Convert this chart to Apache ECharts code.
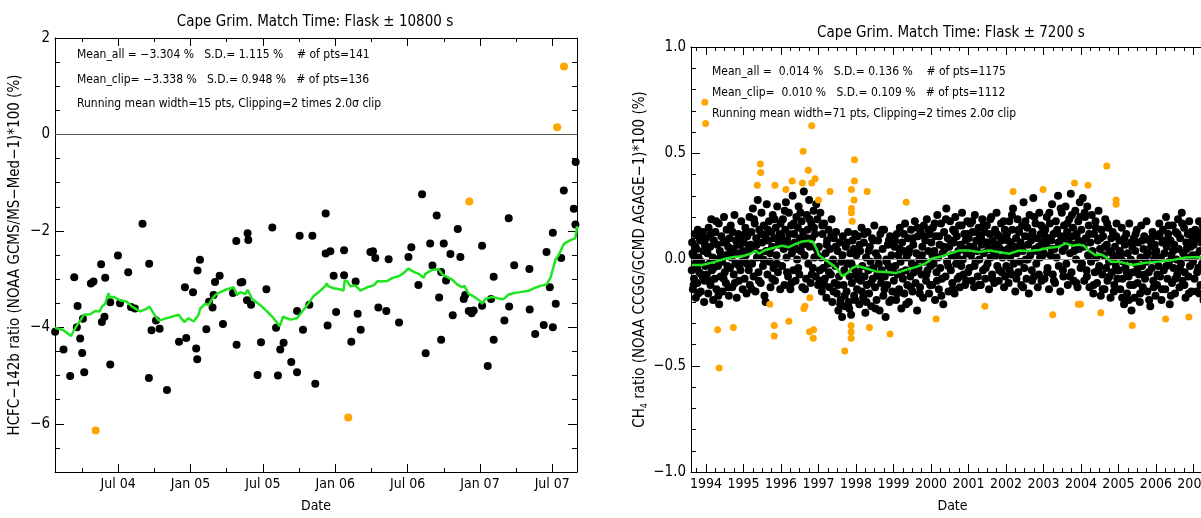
<!DOCTYPE html>
<html>
<head>
<meta charset="utf-8">
<script src="https://cdn.jsdelivr.net/npm/echarts@6/dist/echarts.min.js"></script>
<style>
html,body{margin:0;padding:0;background:#fff;overflow:hidden}
/* the right panel runs past the window edge, as in the original */
#chart{width:1232px;height:518px}
</style>
</head>
<body>
<div id="chart"></div>
<script>
// ---- HCFC-142b panel (left) : [decimal year, ratio %] ----
const hcfcPts = [
  [2004.064,-4.09],[2004.122,-4.46],[2004.168,-5.01],[2004.196,-2.96],[2004.219,-3.56],[2004.214,-4.00],[2004.256,-3.82],[2004.237,-4.23],[2004.251,-4.53],[2004.265,-4.93],
  [2004.311,-3.09],[2004.329,-3.05],[2004.382,-2.69],[2004.410,-2.97],[2004.387,-3.89],[2004.405,-3.78],[2004.445,-3.48],[2004.445,-4.77],[2004.498,-2.51],[2004.512,-3.50],
  [2004.569,-2.86],[2004.588,-3.58],[2004.615,-3.61],[2004.668,-1.85],[2004.714,-2.68],[2004.712,-5.05],[2004.730,-4.06],[2004.761,-3.86],[2004.786,-4.03],[2004.837,-5.30],
  [2004.920,-4.30],[2004.961,-3.17],[2004.970,-4.22],[2005.017,-3.27],[2005.039,-4.44],[2005.046,-4.66],[2005.048,-2.82],[2005.065,-2.60],[2005.109,-4.04],[2005.127,-3.47],
  [2005.152,-3.59],[2005.159,-3.33],[2005.169,-3.06],[2005.201,-2.93],[2005.224,-3.93],[2005.293,-3.29],[2005.316,-2.21],[2005.318,-4.36],[2005.346,-3.07],[2005.358,-3.06],
  [2005.394,-2.05],[2005.399,-2.19],[2005.390,-3.44],[2005.418,-3.53],[2005.463,-4.99],[2005.487,-4.31],[2005.524,-3.21],[2005.565,-1.93],[2005.591,-4.01],[2005.604,-5.00],
  [2005.620,-4.46],[2005.643,-4.32],[2005.696,-4.72],[2005.736,-4.93],[2005.754,-2.10],[2005.736,-3.66],[2005.777,-4.05],[2005.821,-3.53],[2005.842,-2.10],[2005.862,-5.17],
  [2005.934,-1.64],[2005.934,-2.47],[2005.966,-2.42],[2005.947,-3.96],[2005.989,-2.93],[2006.006,-3.68],[2006.061,-2.40],[2006.061,-2.92],[2006.111,-4.30],[2006.141,-3.05],
  [2006.155,-3.72],[2006.176,-4.05],[2006.243,-2.44],[2006.261,-2.42],[2006.277,-2.56],[2006.298,-3.59],[2006.353,-3.66],[2006.369,-2.59],[2006.441,-3.90],[2006.506,-2.54],
  [2006.526,-2.34],[2006.575,-3.12],[2006.600,-1.24],[2006.625,-4.54],[2006.656,-2.26],[2006.672,-2.72],[2006.701,-1.68],[2006.718,-3.38],[2006.732,-4.26],[2006.732,-2.85],
  [2006.750,-2.26],[2006.766,-3.03],[2006.796,-2.48],[2006.812,-3.75],[2006.847,-1.96],[2006.865,-2.54],[2006.888,-3.41],[2006.898,-3.33],[2006.923,-3.66],[2006.943,-3.71],
  [2006.957,-3.65],[2007.015,-2.31],[2007.015,-3.55],[2007.054,-4.80],[2007.077,-3.41],[2007.095,-2.95],[2007.095,-4.26],[2007.169,-3.86],[2007.199,-1.74],[2007.202,-3.57],
  [2007.237,-2.71],[2007.342,-2.79],[2007.344,-3.63],[2007.382,-4.14],[2007.441,-3.95],[2007.460,-2.44],[2007.483,-3.17],[2007.504,-2.04],[2007.504,-4.00],[2007.524,-3.51],
  [2007.562,-2.56],[2007.580,-1.16],[2007.649,-1.54],[2007.660,-1.87],[2007.662,-0.57]
];
const hcfcClipped = [[2004.344,-6.14],[2006.090,-5.87],[2006.927,-1.39],[2007.534,0.15],[2007.581,1.41]];
const hcfcMean = [
  [2004.064,-4.01],[2004.122,-4.06],[2004.173,-4.18],[2004.210,-3.98],[2004.242,-3.84],[2004.260,-3.74],[2004.306,-3.73],[2004.341,-3.66],
  [2004.371,-3.67],[2004.387,-3.57],[2004.410,-3.51],[2004.433,-3.29],[2004.440,-3.37],[2004.467,-3.37],[2004.514,-3.44],[2004.560,-3.47],
  [2004.595,-3.57],[2004.652,-3.67],[2004.698,-3.61],[2004.716,-3.57],[2004.744,-3.71],[2004.779,-3.86],[2004.837,-3.81],[2004.917,-3.74],
  [2004.956,-3.89],[2004.986,-3.81],[2005.021,-3.88],[2005.055,-3.74],[2005.067,-3.61],[2005.102,-3.51],[2005.125,-3.54],[2005.148,-3.42],
  [2005.171,-3.33],[2005.205,-3.27],[2005.252,-3.21],[2005.297,-3.17],[2005.321,-3.33],[2005.344,-3.27],[2005.378,-3.31],[2005.394,-3.22],
  [2005.425,-3.41],[2005.482,-3.54],[2005.528,-3.67],[2005.574,-3.81],[2005.616,-3.98],[2005.639,-3.78],[2005.690,-3.84],[2005.736,-3.81],
  [2005.805,-3.54],[2005.851,-3.35],[2005.897,-3.24],[2005.932,-3.14],[2005.939,-3.09],[2005.954,-3.15],[2005.989,-3.19],[2006.031,-3.21],
  [2006.058,-3.24],[2006.065,-3.03],[2006.082,-3.04],[2006.105,-3.15],[2006.139,-3.13],[2006.174,-3.24],[2006.220,-3.17],[2006.266,-3.13],
  [2006.293,-3.04],[2006.312,-3.05],[2006.358,-3.04],[2006.393,-2.98],[2006.445,-2.93],[2006.478,-2.86],[2006.506,-2.78],[2006.542,-2.85],
  [2006.577,-2.89],[2006.611,-2.97],[2006.623,-2.89],[2006.669,-2.81],[2006.715,-2.79],[2006.739,-2.90],[2006.761,-2.94],[2006.773,-2.91],
  [2006.808,-3.01],[2006.842,-3.11],[2006.877,-3.17],[2006.893,-3.14],[2006.923,-3.31],[2006.957,-3.36],[2007.004,-3.46],[2007.015,-3.51],
  [2007.038,-3.41],[2007.084,-3.37],[2007.096,-3.35],[2007.142,-3.41],[2007.165,-3.41],[2007.199,-3.32],[2007.234,-3.29],[2007.280,-3.27],
  [2007.338,-3.24],[2007.372,-3.19],[2007.418,-3.14],[2007.460,-3.11],[2007.488,-2.97],[2007.522,-2.60],[2007.545,-2.50],[2007.580,-2.27],
  [2007.626,-2.19],[2007.660,-2.15],[2007.671,-1.90]
];
const hcfcTickVals = [2004.5, 2005.0, 2005.5, 2006.0, 2006.5, 2007.0, 2007.5];
const hcfcTickLabels = ['Jul 04', 'Jan 05', 'Jul 05', 'Jan 06', 'Jul 06', 'Jan 07', 'Jul 07'];
const hcfcYTicks = [-6, -4, -2, 0, 2];
const hcfcStats = [
  'Mean_all = \u22123.304 %   S.D.= 1.115 %    # of pts=141',
  'Mean_clip= \u22123.338 %   S.D.= 0.948 %   # of pts=136',
  'Running mean width=15 pts, Clipping=2 times 2.0\u03c3 clip'
];

// ---- CH4 panel (right) : [decimal year, ratio %], grouped by year ----
const ch1993 = [[1993.62,-0.05],[1993.63,0.08],[1993.65,-0.14],[1993.66,0.02],[1993.68,-0.09],[1993.70,0.12],[1993.71,-0.02],[1993.73,-0.18],[1993.75,0.05],[1993.77,-0.11],[1993.78,0.14],[1993.80,0.01],[1993.82,-0.06],[1993.84,0.09],[1993.86,-0.15],[1993.87,-0.01],[1993.89,0.11],[1993.91,-0.08],[1993.93,0.04],[1993.95,-0.20],[1993.97,0.07],[1993.98,-0.03],
  [1993.64,0.03],[1993.67,-0.12],[1993.72,0.06],[1993.76,-0.04],[1993.79,-0.16],[1993.83,0.10],[1993.88,-0.07],[1993.92,0.13],[1993.96,-0.10]];
const ch1994 = [[1994.01,0.10],[1994.02,-0.07],[1994.04,0.03],[1994.06,-0.16],[1994.07,0.15],[1994.09,-0.02],[1994.11,0.06],[1994.12,-0.12],[1994.14,0.19],[1994.16,-0.05],[1994.18,0.01],[1994.19,-0.19],[1994.21,0.09],[1994.23,-0.09],[1994.25,0.13],[1994.26,0.00],[1994.28,-0.14],[1994.30,0.07],[1994.32,-0.03],[1994.34,0.17],[1994.35,-0.21],[1994.37,0.04],[1994.39,-0.08],[1994.41,0.11],[1994.43,-0.01],[1994.44,-0.15],[1994.46,0.08],[1994.48,0.20],[1994.50,-0.06],[1994.52,0.02],[1994.53,-0.11],[1994.55,0.14],[1994.57,-0.03],[1994.59,0.06],[1994.61,-0.17],[1994.63,0.10],[1994.64,-0.04],[1994.66,0.16],[1994.68,0.01],[1994.70,-0.13],[1994.72,0.05],[1994.74,-0.07],[1994.76,0.21],[1994.78,-0.02],[1994.80,0.09],[1994.82,-0.18],[1994.84,0.03],[1994.86,0.12],[1994.88,-0.10],[1994.90,0.07],[1994.92,-0.05],[1994.94,0.18],[1994.96,-0.01],[1994.98,-0.14],
  [1994.03,0.05],[1994.08,-0.10],[1994.13,0.12],[1994.20,-0.04],[1994.27,0.18],[1994.33,-0.17],[1994.40,0.02],[1994.47,-0.09],[1994.54,0.09],[1994.60,-0.13],[1994.65,0.04],[1994.71,0.13],[1994.77,-0.11],[1994.83,0.07],[1994.89,-0.03],[1994.95,0.10],[1994.99,0.04]];
const ch1995 = [[1995.01,0.08],[1995.03,-0.09],[1995.05,0.15],[1995.06,0.02],[1995.08,-0.16],[1995.10,0.11],[1995.12,0.04],[1995.14,-0.05],[1995.16,0.20],[1995.17,-0.12],[1995.19,0.07],[1995.21,0.13],[1995.23,-0.02],[1995.25,0.24],[1995.27,-0.08],[1995.29,0.05],[1995.30,0.17],[1995.32,-0.15],[1995.34,0.10],[1995.36,0.01],[1995.38,0.28],[1995.40,-0.06],[1995.42,0.14],[1995.44,0.03],[1995.46,-0.11],[1995.48,0.22],[1995.50,0.08],[1995.52,-0.03],[1995.54,0.16],[1995.56,-0.17],[1995.58,0.11],[1995.60,0.04],[1995.62,0.26],[1995.64,-0.07],[1995.66,0.09],[1995.68,0.18],[1995.70,-0.01],[1995.72,-0.13],[1995.74,0.13],[1995.76,0.06],[1995.78,0.21],[1995.80,-0.04],[1995.82,0.10],[1995.84,-0.10],[1995.86,0.15],[1995.88,0.02],[1995.90,0.25],[1995.92,-0.06],[1995.94,0.07],[1995.96,0.12],[1995.98,-0.14],
  [1995.04,0.12],[1995.09,-0.02],[1995.15,0.06],[1995.22,-0.14],[1995.28,0.19],[1995.35,0.07],[1995.41,-0.10],[1995.47,0.12],[1995.53,0.00],[1995.59,-0.20],[1995.65,0.14],[1995.71,0.03],[1995.77,-0.09],[1995.83,0.19],[1995.89,-0.02],[1995.95,0.09],[1995.99,0.17]];
const ch1996 = [[1996.01,0.11],[1996.03,-0.03],[1996.05,0.19],[1996.07,0.05],[1996.09,-0.12],[1996.11,0.14],[1996.13,0.27],[1996.15,0.01],[1996.17,0.09],[1996.19,-0.08],[1996.21,0.22],[1996.23,0.06],[1996.25,-0.14],[1996.27,0.16],[1996.29,0.03],[1996.31,0.30],[1996.33,-0.05],[1996.35,0.12],[1996.37,0.08],[1996.39,-0.10],[1996.41,0.20],[1996.43,0.00],[1996.45,0.15],[1996.47,0.25],[1996.49,-0.07],[1996.51,0.10],[1996.53,0.04],[1996.55,0.18],[1996.57,-0.13],[1996.59,0.13],[1996.61,0.32],[1996.63,0.02],[1996.65,0.08],[1996.67,-0.09],[1996.69,0.21],[1996.71,0.14],[1996.73,-0.02],[1996.75,0.28],[1996.77,0.06],[1996.79,-0.11],[1996.81,0.17],[1996.83,0.10],[1996.85,-0.04],[1996.87,0.23],[1996.89,0.01],[1996.91,0.12],[1996.93,-0.08],[1996.95,0.05],[1996.97,0.19],[1996.99,-0.12],
  [1996.04,0.08],[1996.10,0.23],[1996.16,-0.06],[1996.22,0.12],[1996.28,-0.11],[1996.34,0.17],[1996.40,0.05],[1996.46,-0.04],[1996.52,0.22],[1996.58,0.07],[1996.64,-0.14],[1996.70,0.10],[1996.76,0.19],[1996.82,-0.07],[1996.88,0.15],[1996.94,0.26],[1996.98,0.02]];
const ch1997 = [[1997.01,0.06],[1997.03,-0.10],[1997.05,0.22],[1997.07,0.01],[1997.09,-0.15],[1997.11,0.12],[1997.13,-0.04],[1997.15,0.17],[1997.17,-0.09],[1997.19,0.03],[1997.21,-0.18],[1997.23,0.09],[1997.25,-0.02],[1997.27,0.14],[1997.29,-0.13],[1997.31,0.05],[1997.33,-0.07],[1997.35,0.19],[1997.37,-0.20],[1997.39,0.00],[1997.41,0.10],[1997.43,-0.11],[1997.45,-0.03],[1997.47,0.13],[1997.49,-0.16],[1997.51,0.04],[1997.53,-0.24],[1997.55,-0.08],[1997.57,0.08],[1997.59,-0.19],[1997.61,-0.01],[1997.63,-0.27],[1997.65,0.11],[1997.67,-0.12],[1997.69,-0.05],[1997.71,-0.22],[1997.73,0.06],[1997.75,-0.15],[1997.77,-0.02],[1997.79,0.13],[1997.81,-0.20],[1997.83,-0.08],[1997.85,0.03],[1997.87,-0.26],[1997.89,-0.11],[1997.91,0.09],[1997.93,-0.04],[1997.95,-0.17],[1997.97,0.12],[1997.99,-0.07],
  [1997.04,-0.05],[1997.10,0.16],[1997.16,-0.12],[1997.22,0.07],[1997.28,-0.06],[1997.34,0.11],[1997.40,-0.15],[1997.46,0.06],[1997.52,-0.12],[1997.58,-0.21],[1997.64,0.02],[1997.70,-0.17],[1997.76,0.08],[1997.82,-0.23],[1997.88,-0.02],[1997.94,0.05],[1997.98,-0.19]];
const ch1998 = [[1998.01,0.02],[1998.03,-0.14],[1998.05,0.11],[1998.07,-0.06],[1998.09,-0.21],[1998.11,0.04],[1998.13,-0.10],[1998.15,0.15],[1998.17,-0.03],[1998.19,-0.18],[1998.21,0.08],[1998.23,-0.08],[1998.25,-0.25],[1998.27,0.01],[1998.29,-0.12],[1998.31,0.13],[1998.33,-0.05],[1998.35,-0.16],[1998.37,0.06],[1998.39,-0.01],[1998.41,-0.22],[1998.43,0.10],[1998.45,-0.09],[1998.47,-0.04],[1998.49,0.16],[1998.51,-0.13],[1998.53,0.03],[1998.55,-0.19],[1998.57,-0.07],[1998.59,0.09],[1998.61,-0.02],[1998.63,-0.24],[1998.65,0.12],[1998.67,-0.11],[1998.69,-0.05],[1998.71,0.05],[1998.73,-0.17],[1998.75,0.14],[1998.77,-0.08],[1998.79,-0.27],[1998.81,0.00],[1998.83,-0.12],[1998.85,0.07],[1998.87,-0.03],[1998.89,-0.20],[1998.91,0.11],[1998.93,-0.06],[1998.95,0.02],[1998.97,-0.15],[1998.99,0.08],
  [1998.04,-0.09],[1998.10,0.07],[1998.16,-0.15],[1998.22,0.12],[1998.28,-0.20],[1998.34,0.04],[1998.40,-0.11],[1998.46,0.09],[1998.52,-0.23],[1998.58,0.01],[1998.64,-0.08],[1998.70,0.14],[1998.76,-0.14],[1998.82,-0.01],[1998.88,0.09],[1998.94,-0.19],[1998.98,-0.05]];
const ch1999 = [[1999.01,-0.10],[1999.03,0.06],[1999.05,-0.03],[1999.07,-0.19],[1999.09,0.12],[1999.11,-0.07],[1999.13,0.02],[1999.15,-0.14],[1999.17,0.15],[1999.19,-0.01],[1999.21,-0.23],[1999.23,0.08],[1999.25,-0.09],[1999.27,0.04],[1999.29,-0.16],[1999.31,0.17],[1999.33,-0.05],[1999.35,0.01],[1999.37,-0.12],[1999.39,0.10],[1999.41,-0.20],[1999.43,0.05],[1999.45,-0.08],[1999.47,0.14],[1999.49,-0.02],[1999.51,-0.15],[1999.53,0.07],[1999.55,-0.06],[1999.57,0.18],[1999.59,-0.11],[1999.61,0.03],[1999.63,-0.24],[1999.65,0.11],[1999.67,-0.04],[1999.69,0.00],[1999.71,-0.13],[1999.73,0.13],[1999.75,-0.07],[1999.77,0.06],[1999.79,-0.18],[1999.81,0.16],[1999.83,-0.01],[1999.85,0.09],[1999.87,-0.10],[1999.89,0.19],[1999.91,-0.05],[1999.93,0.04],[1999.95,-0.16],[1999.97,0.12],[1999.99,-0.03],
  [1999.04,0.09],[1999.10,-0.16],[1999.16,0.05],[1999.22,-0.06],[1999.28,0.12],[1999.34,-0.21],[1999.40,0.03],[1999.46,-0.13],[1999.52,0.10],[1999.58,-0.03],[1999.64,0.15],[1999.70,-0.16],[1999.76,0.02],[1999.82,0.11],[1999.88,-0.07],[1999.94,0.14],[1999.98,-0.12]];
const ch2000 = [[2000.01,0.08],[2000.03,-0.12],[2000.05,0.15],[2000.07,-0.02],[2000.09,0.04],[2000.11,-0.19],[2000.13,0.11],[2000.15,-0.06],[2000.17,0.21],[2000.19,0.01],[2000.21,-0.14],[2000.23,0.07],[2000.25,-0.04],[2000.27,0.17],[2000.29,-0.09],[2000.31,0.03],[2000.33,-0.21],[2000.35,0.13],[2000.37,0.05],[2000.39,-0.08],[2000.41,0.24],[2000.43,-0.01],[2000.45,0.10],[2000.47,-0.15],[2000.49,0.06],[2000.51,0.18],[2000.53,-0.05],[2000.55,0.02],[2000.57,-0.11],[2000.59,0.14],[2000.61,0.08],[2000.63,-0.16],[2000.65,0.20],[2000.67,-0.02],[2000.69,0.11],[2000.71,-0.09],[2000.73,0.04],[2000.75,0.16],[2000.77,-0.13],[2000.79,0.07],[2000.81,-0.03],[2000.83,0.22],[2000.85,0.00],[2000.87,-0.07],[2000.89,0.12],[2000.91,-0.12],[2000.93,0.09],[2000.95,0.03],[2000.97,0.18],[2000.99,-0.06],
  [2000.04,0.02],[2000.10,0.17],[2000.16,-0.10],[2000.22,0.11],[2000.28,-0.17],[2000.34,0.06],[2000.40,0.19],[2000.46,-0.03],[2000.52,0.09],[2000.58,-0.14],[2000.64,0.13],[2000.70,0.01],[2000.76,-0.08],[2000.82,0.16],[2000.88,0.05],[2000.94,-0.10],[2000.98,0.12]];
const ch2001 = [[2001.01,0.10],[2001.03,-0.04],[2001.05,0.17],[2001.07,0.02],[2001.09,-0.10],[2001.11,0.13],[2001.13,0.06],[2001.15,-0.13],[2001.17,0.21],[2001.19,-0.01],[2001.21,0.09],[2001.23,0.04],[2001.25,-0.08],[2001.27,0.15],[2001.29,0.00],[2001.31,0.11],[2001.33,-0.12],[2001.35,0.07],[2001.37,0.19],[2001.39,-0.05],[2001.41,0.03],[2001.43,0.13],[2001.45,-0.09],[2001.47,0.08],[2001.49,0.16],[2001.51,-0.02],[2001.53,0.05],[2001.55,-0.14],[2001.57,0.12],[2001.59,0.01],[2001.61,0.20],[2001.63,-0.07],[2001.65,0.09],[2001.67,0.04],[2001.69,-0.11],[2001.71,0.14],[2001.73,0.02],[2001.75,0.22],[2001.77,-0.03],[2001.79,0.07],[2001.81,-0.10],[2001.83,0.11],[2001.85,0.05],[2001.87,0.17],[2001.89,-0.06],[2001.91,0.01],[2001.93,0.10],[2001.95,-0.13],[2001.97,0.14],[2001.99,0.03],
  [2001.04,0.06],[2001.10,0.18],[2001.16,-0.03],[2001.22,0.13],[2001.28,-0.12],[2001.34,0.10],[2001.40,0.16],[2001.46,-0.04],[2001.52,0.08],[2001.58,0.19],[2001.64,-0.09],[2001.70,0.06],[2001.76,0.12],[2001.82,-0.05],[2001.88,0.09],[2001.94,0.18],[2001.98,-0.08]];
const ch2002 = [[2002.01,-0.03],[2002.03,0.12],[2002.05,0.05],[2002.07,-0.11],[2002.09,0.18],[2002.11,0.01],[2002.13,0.08],[2002.15,-0.07],[2002.17,0.14],[2002.19,0.24],[2002.21,-0.02],[2002.23,0.06],[2002.25,-0.15],[2002.27,0.10],[2002.29,0.03],[2002.31,0.19],[2002.33,-0.06],[2002.35,0.13],[2002.37,-0.01],[2002.39,0.08],[2002.41,-0.12],[2002.43,0.16],[2002.45,0.04],[2002.47,0.27],[2002.49,-0.04],[2002.51,0.11],[2002.53,0.00],[2002.55,-0.09],[2002.57,0.15],[2002.59,0.07],[2002.61,-0.16],[2002.63,0.21],[2002.65,0.02],[2002.67,0.09],[2002.69,-0.05],[2002.71,0.13],[2002.73,0.29],[2002.75,-0.08],[2002.77,0.05],[2002.79,0.17],[2002.81,-0.02],[2002.83,0.10],[2002.85,-0.13],[2002.87,0.06],[2002.89,0.22],[2002.91,0.01],[2002.93,0.12],[2002.95,-0.10],[2002.97,0.08],[2002.99,0.15],
  [2002.04,0.09],[2002.10,-0.05],[2002.16,0.21],[2002.22,0.03],[2002.28,-0.09],[2002.34,0.14],[2002.40,0.06],[2002.46,-0.13],[2002.52,0.18],[2002.58,0.00],[2002.64,0.11],[2002.70,-0.10],[2002.76,0.20],[2002.82,0.04],[2002.88,-0.07],[2002.94,0.16],[2002.98,0.02]];
const ch2003 = [[2003.01,0.03],[2003.03,-0.09],[2003.05,0.14],[2003.07,0.07],[2003.09,0.20],[2003.11,-0.04],[2003.13,0.10],[2003.15,-0.14],[2003.17,0.17],[2003.19,0.02],[2003.21,0.09],[2003.23,0.26],[2003.25,-0.07],[2003.27,0.12],[2003.29,0.05],[2003.31,-0.11],[2003.33,0.18],[2003.35,0.01],[2003.37,0.14],[2003.39,0.30],[2003.41,-0.03],[2003.43,0.08],[2003.45,-0.15],[2003.47,0.11],[2003.49,0.22],[2003.51,0.04],[2003.53,-0.08],[2003.55,0.16],[2003.57,0.06],[2003.59,0.25],[2003.61,-0.02],[2003.63,0.13],[2003.65,-0.12],[2003.67,0.09],[2003.69,0.19],[2003.71,0.03],[2003.73,0.31],[2003.75,-0.06],[2003.77,0.11],[2003.79,0.15],[2003.81,-0.10],[2003.83,0.07],[2003.85,0.23],[2003.87,0.00],[2003.89,0.12],[2003.91,-0.13],[2003.93,0.18],[2003.95,0.05],[2003.97,0.27],[2003.99,-0.04],
  [2003.04,0.11],[2003.10,-0.06],[2003.16,0.22],[2003.22,0.05],[2003.28,-0.10],[2003.34,0.13],[2003.40,0.08],[2003.46,0.24],[2003.52,-0.05],[2003.58,0.10],[2003.64,0.17],[2003.70,-0.08],[2003.76,0.21],[2003.82,0.04],[2003.88,-0.11],[2003.94,0.09],[2003.98,0.20]];
const ch2004 = [[2004.01,0.14],[2004.03,-0.02],[2004.05,0.29],[2004.07,0.06],[2004.09,-0.10],[2004.11,0.20],[2004.13,0.10],[2004.15,-0.05],[2004.17,0.25],[2004.19,0.02],[2004.21,0.16],[2004.23,-0.13],[2004.25,0.08],[2004.27,-0.01],[2004.29,0.21],[2004.31,0.04],[2004.33,-0.16],[2004.35,0.12],[2004.37,-0.06],[2004.39,0.18],[2004.41,0.01],[2004.43,-0.11],[2004.45,0.09],[2004.47,0.23],[2004.49,-0.03],[2004.51,0.05],[2004.53,-0.17],[2004.55,0.14],[2004.57,-0.07],[2004.59,0.11],[2004.61,0.02],[2004.63,-0.14],[2004.65,0.19],[2004.67,-0.04],[2004.69,0.07],[2004.71,-0.10],[2004.73,0.15],[2004.75,-0.01],[2004.77,0.04],[2004.79,-0.18],[2004.81,0.10],[2004.83,-0.06],[2004.85,0.13],[2004.87,0.00],[2004.89,-0.12],[2004.91,0.06],[2004.93,-0.03],[2004.95,0.17],[2004.97,-0.09],[2004.99,0.02],
  [2004.04,0.08],[2004.10,0.22],[2004.16,-0.08],[2004.22,0.12],[2004.28,0.03],[2004.34,-0.12],[2004.40,0.15],[2004.46,-0.05],[2004.52,0.10],[2004.58,-0.14],[2004.64,0.06],[2004.70,0.17],[2004.76,-0.08],[2004.82,0.03],[2004.88,-0.15],[2004.94,0.11],[2004.98,-0.05]];
const ch2005 = [[2005.01,-0.05],[2005.03,0.09],[2005.05,-0.14],[2005.07,0.02],[2005.09,0.15],[2005.11,-0.09],[2005.13,-0.01],[2005.15,-0.21],[2005.17,0.07],[2005.19,-0.04],[2005.21,0.12],[2005.23,-0.16],[2005.25,0.03],[2005.27,-0.08],[2005.29,0.17],[2005.31,-0.12],[2005.33,0.00],[2005.35,-0.24],[2005.37,0.06],[2005.39,-0.06],[2005.41,0.10],[2005.43,-0.18],[2005.45,0.04],[2005.47,-0.02],[2005.49,0.14],[2005.51,-0.11],[2005.53,0.08],[2005.55,-0.07],[2005.57,-0.20],[2005.59,0.01],[2005.61,0.16],[2005.63,-0.03],[2005.65,-0.13],[2005.67,0.05],[2005.69,0.11],[2005.71,-0.09],[2005.73,-0.01],[2005.75,0.18],[2005.77,-0.15],[2005.79,0.03],[2005.81,-0.06],[2005.83,0.09],[2005.85,-0.22],[2005.87,0.06],[2005.89,-0.04],[2005.91,0.13],[2005.93,-0.10],[2005.95,0.00],[2005.97,0.07],[2005.99,-0.17],
  [2005.04,0.04],[2005.10,-0.18],[2005.16,0.10],[2005.22,-0.06],[2005.28,-0.19],[2005.34,0.08],[2005.40,-0.12],[2005.46,0.12],[2005.52,-0.04],[2005.58,-0.16],[2005.64,0.09],[2005.70,-0.07],[2005.76,0.02],[2005.82,-0.19],[2005.88,0.10],[2005.94,-0.13],[2005.98,0.03]];
const ch2006 = [[2006.01,0.04],[2006.03,-0.12],[2006.05,0.11],[2006.07,-0.03],[2006.09,0.17],[2006.11,-0.08],[2006.13,0.01],[2006.15,-0.19],[2006.17,0.08],[2006.19,0.14],[2006.21,-0.05],[2006.23,0.03],[2006.25,-0.14],[2006.27,0.20],[2006.29,0.06],[2006.31,-0.09],[2006.33,0.12],[2006.35,-0.01],[2006.37,-0.21],[2006.39,0.09],[2006.41,0.02],[2006.43,-0.11],[2006.45,0.16],[2006.47,-0.04],[2006.49,0.07],[2006.51,-0.16],[2006.53,0.13],[2006.55,0.00],[2006.57,-0.07],[2006.59,0.19],[2006.61,0.05],[2006.63,-0.13],[2006.65,0.10],[2006.67,-0.02],[2006.69,0.22],[2006.71,-0.10],[2006.73,0.03],[2006.75,0.15],[2006.77,-0.06],[2006.79,-0.18],[2006.81,0.08],[2006.83,0.01],[2006.85,0.12],[2006.87,-0.08],[2006.89,0.18],[2006.91,-0.03],[2006.93,0.06],[2006.95,-0.15],[2006.97,0.10],[2006.99,-0.01],
  [2006.04,-0.07],[2006.10,0.12],[2006.16,-0.14],[2006.22,0.09],[2006.28,-0.03],[2006.34,0.16],[2006.40,-0.17],[2006.46,0.04],[2006.52,-0.09],[2006.58,0.12],[2006.64,-0.04],[2006.70,0.17],[2006.76,-0.12],[2006.82,0.05],[2006.88,-0.16],[2006.94,0.13],[2006.98,0.02]];
const ch2007 = [[2007.01,0.07],[2007.03,-0.09],[2007.05,0.14],[2007.07,0.02],[2007.09,-0.15],[2007.11,0.10],[2007.13,-0.04],[2007.15,0.18],[2007.17,0.04],[2007.19,-0.12],[2007.21,0.08],[2007.23,-0.02],[2007.25,0.16],[2007.27,-0.19],[2007.29,0.05],[2007.31,0.11],[2007.33,-0.07],[2007.35,0.01],[2007.37,0.13],[2007.39,-0.11],[2007.41,0.06],[2007.43,-0.03],[2007.45,0.19],[2007.47,-0.14],[2007.49,0.09],[2007.51,0.00],[2007.53,-0.08],[2007.55,0.12],[2007.57,0.03],[2007.59,-0.17],
  [2007.04,0.11],[2007.10,-0.06],[2007.16,-0.16],[2007.22,0.13],[2007.28,0.00],[2007.34,0.15],[2007.40,-0.09],[2007.46,0.07],[2007.52,-0.13],[2007.58,0.10]];
const chClipped = [
  [1993.97,0.74],[1993.99,0.64],[1996.82,0.63],[1996.59,0.51],[1995.45,0.45],[1995.46,0.41],[1996.73,0.42],[1995.37,0.35],[1995.84,0.35],
  [1996.13,0.33],[1996.30,0.37],[1996.57,0.36],[1996.82,0.36],[1996.91,0.38],[1997.00,0.28],[1996.77,-0.18],[1996.64,-0.22],[1996.61,-0.23],
  [1995.70,-0.21],[1996.21,-0.29],[1995.82,-0.31],[1995.82,-0.36],[1994.31,-0.33],[1994.73,-0.32],[1994.35,-0.51],[1996.76,-0.34],[1996.87,-0.33],
  [1996.86,-0.37],[1997.96,0.47],[1997.96,0.37],[1997.88,0.33],[1997.31,0.32],[1998.30,0.32],[1997.95,0.28],[1997.88,0.24],[1997.88,0.22],
  [1997.90,0.18],[1999.34,0.27],[2000.14,-0.28],[1998.36,-0.32],[1998.91,-0.35],[1997.87,-0.31],[1997.87,-0.34],[1997.87,-0.37],[1997.70,-0.43],
  [2002.19,0.32],[2002.99,0.33],[2003.83,0.36],[2001.44,-0.22],[2003.25,-0.26],[2003.93,-0.21],[2004.69,0.44],[2004.19,0.35],[2004.94,0.28],
  [2004.94,0.26],[2003.99,-0.21],[2004.53,-0.25],[2005.37,-0.31],[2006.26,-0.28],[2006.88,-0.27]
];
const chMean = [
  [1993.62,-0.026],[1993.90,-0.026],[1994.26,-0.010],[1994.53,0.005],[1994.75,0.012],[1994.97,0.015],[1995.19,0.027],[1995.33,0.042],
  [1995.41,0.027],[1995.59,0.045],[1995.86,0.058],[1996.03,0.065],[1996.21,0.058],[1996.39,0.073],[1996.57,0.085],[1996.75,0.088],
  [1996.85,0.085],[1996.97,0.042],[1997.01,0.020],[1997.19,-0.003],[1997.41,-0.030],[1997.55,-0.056],[1997.63,-0.079],[1997.77,-0.064],
  [1997.90,-0.041],[1998.03,-0.030],[1998.26,-0.041],[1998.53,-0.056],[1998.79,-0.059],[1999.06,-0.064],[1999.33,-0.049],[1999.59,-0.036],
  [1999.86,-0.018],[2000.03,0.005],[2000.30,0.015],[2000.48,0.027],[2000.75,0.042],[2001.01,0.042],[2001.28,0.035],[2001.55,0.042],
  [2001.81,0.035],[2002.08,0.027],[2002.35,0.042],[2002.61,0.040],[2002.88,0.045],[2003.15,0.055],[2003.41,0.060],[2003.59,0.076],
  [2003.77,0.065],[2003.95,0.070],[2004.08,0.065],[2004.21,0.042],[2004.39,0.020],[2004.53,0.024],[2004.66,0.012],[2004.79,-0.010],
  [2005.01,-0.010],[2005.37,-0.026],[2005.73,-0.015],[2006.08,-0.010],[2006.43,-0.003],[2006.79,0.009],[2007.23,0.012],[2007.60,0.010]
];
const chPts = [].concat(ch1993, ch1994, ch1995, ch1996, ch1997, ch1998, ch1999, ch2000, ch2001, ch2002, ch2003, ch2004, ch2005, ch2006, ch2007);
const chTickVals = [1994, 1995, 1996, 1997, 1998, 1999, 2000, 2001, 2002, 2003, 2004, 2005, 2006, 2007];
const chTickLabels = ['1994', '1995', '1996', '1997', '1998', '1999', '2000', '2001', '2002', '2003', '2004', '2005', '2006', '2007'];
const chYTicks = [-1, -0.5, 0, 0.5, 1];
const chStats = [
  'Mean_all =  0.014 %   S.D.= 0.136 %    # of pts=1175',
  'Mean_clip=  0.010 %   S.D.= 0.109 %   # of pts=1112',
  'Running mean width=71 pts, Clipping=2 times 2.0\u03c3 clip'
];

const FONT = '"Liberation Sans Narrow", "Arial Narrow", "DejaVu Sans Condensed", sans-serif';
const INK = '#000';

// quarter / sub-steps between majors for the small ticks
function steps(from, to, step) {
  const out = [];
  for (let v = from; v <= to + 1e-9; v += step) out.push(Math.round(v * 1000) / 1000);
  return out;
}

function tick(vals, len) {
  return { show: true, inside: true, length: len, customValues: vals, lineStyle: { color: INK, width: 1 } };
}

function xAxes(grid, min, max, major, minor, labels) {
  const base = { type: 'value', gridIndex: grid, min: min, max: max, splitLine: { show: false } };
  return [
    Object.assign({}, base, {
      position: 'bottom',
      axisLine: { onZero: false, lineStyle: { color: INK, width: 1 } },
      axisTick: tick(major, 8),
      axisLabel: {
        customValues: major, margin: 5, color: INK, fontFamily: FONT, fontSize: 14,
        formatter: v => labels[major.findIndex(m => Math.abs(m - v) < 1e-6)]
      },
      name: 'Date', nameLocation: 'middle', nameGap: 27,
      nameTextStyle: { color: INK, fontFamily: FONT, fontSize: 14 }
    }),
    Object.assign({}, base, { position: 'bottom', axisLine: { show: false, onZero: false }, axisTick: tick(minor, 4), axisLabel: { show: false } }),
    Object.assign({}, base, { position: 'top', axisLine: { onZero: false, lineStyle: { color: INK, width: 1 } }, axisTick: tick(major, 8), axisLabel: { show: false } }),
    Object.assign({}, base, { position: 'top', axisLine: { show: false, onZero: false }, axisTick: tick(minor, 4), axisLabel: { show: false } })
  ];
}

function yAxes(grid, min, max, major, minor, fmt, name, nameGap, nameStyle) {
  const base = { type: 'value', gridIndex: grid, min: min, max: max, splitLine: { show: false } };
  return [
    Object.assign({}, base, {
      position: 'left',
      axisLine: { onZero: false, lineStyle: { color: INK, width: 1 } },
      axisTick: tick(major, 9),
      axisLabel: { customValues: major, margin: 5, color: INK, fontFamily: FONT, fontSize: 15, formatter: v => fmt(v).replace('-', '\u2212') },
      name: name, nameLocation: 'middle', nameRotate: 90, nameGap: nameGap,
      nameTextStyle: nameStyle
    }),
    Object.assign({}, base, { position: 'left', axisLine: { show: false, onZero: false }, axisTick: tick(minor, 5), axisLabel: { show: false } }),
    Object.assign({}, base, { position: 'right', axisLine: { onZero: false, lineStyle: { color: INK, width: 1 } }, axisTick: tick(major, 9), axisLabel: { show: false } }),
    Object.assign({}, base, { position: 'right', axisLine: { show: false, onZero: false }, axisTick: tick(minor, 5), axisLabel: { show: false } })
  ];
}

function statText(lines, x, y0, dy) {
  return lines.map((t, i) => ({
    type: 'text', x: x, y: y0 + i * dy,
    style: { text: t, fill: INK, font: '12px ' + FONT, textAlign: 'left', textVerticalAlign: 'middle', align: 'left', verticalAlign: 'middle' }
  }));
}

function titleText(t, x, y) {
  return {
    type: 'text', x: x, y: y,
    style: { text: t, fill: INK, font: '15px ' + FONT, textAlign: 'center', textVerticalAlign: 'middle', align: 'center', verticalAlign: 'middle' }
  };
}

const chart = echarts.init(document.getElementById('chart'), null, { renderer: 'canvas' });

const option = {
  animation: false,
  backgroundColor: '#fff',
  grid: [
    { left: 55, top: 38, width: 522, height: 447 },
    { left: 691, top: 47, width: 523, height: 439 }
  ],
  xAxis: [].concat(
    xAxes(0, 2004.063, 2007.671, hcfcTickVals, steps(2004.25, 2007.5, 0.25), hcfcTickLabels),
    xAxes(1, 1993.6, 2007.55, chTickVals, steps(1993.75, 2007.5, 0.25), chTickLabels)
  ),
  yAxis: [].concat(
    yAxes(0, -7, 2, hcfcYTicks, steps(-7, 2, 0.5), v => String(v),
      'HCFC\u2212142b ratio (NOAA GCMS/MS\u2212Med\u22121)*100 (%)', 32,
      { color: INK, fontFamily: FONT, fontSize: 15 }),
    yAxes(1, -1, 1, chYTicks, steps(-1, 1, 0.1), v => v.toFixed(1),
      '{n|CH}{s|4}{n| ratio (NOAA CCGG/GCMD AGAGE\u22121)*100 (%)}', 39,
      { color: INK, fontFamily: FONT, fontSize: 15,
        rich: { n: { fontFamily: FONT, fontSize: 15, color: INK, lineHeight: 18 },
                s: { fontFamily: FONT, fontSize: 9, color: INK, lineHeight: 18, verticalAlign: 'bottom', padding: [6, 0, 0, 0] } } })
  ),
  series: [
    {
      type: 'scatter', xAxisIndex: 0, yAxisIndex: 0, data: hcfcPts,
      symbolSize: 8, itemStyle: { color: '#000', opacity: 1 },
      markLine: { silent: true, symbol: 'none', label: { show: false }, animation: false,
        lineStyle: { color: '#555', type: 'solid', width: 1, opacity: 1 }, data: [{ yAxis: 0 }] }
    },
    { type: 'scatter', xAxisIndex: 0, yAxisIndex: 0, data: hcfcClipped, symbolSize: 8, itemStyle: { color: '#ffa500', opacity: 1 } },
    { type: 'line', xAxisIndex: 0, yAxisIndex: 0, data: hcfcMean, showSymbol: false, symbol: 'none',
      lineStyle: { color: '#1fe51f', width: 2.5 }, z: 5 },

    {
      type: 'scatter', xAxisIndex: 4, yAxisIndex: 4, data: chPts,
      symbolSize: 8, itemStyle: { color: '#000', opacity: 1 },
      markLine: { silent: true, symbol: 'none', label: { show: false }, animation: false,
        lineStyle: { color: '#999', type: 'solid', width: 1, opacity: 1 }, data: [{ yAxis: 0 }] }
    },
    { type: 'scatter', xAxisIndex: 4, yAxisIndex: 4, data: chClipped, symbolSize: 7, itemStyle: { color: '#ffa500', opacity: 1 } },
    { type: 'line', xAxisIndex: 4, yAxisIndex: 4, data: chMean, showSymbol: false, symbol: 'none',
      lineStyle: { color: '#1fe51f', width: 2.5 }, z: 5 }
  ],
  graphic: [].concat(
    [titleText('Cape Grim. Match Time: Flask \u00b1 10800 s', 315, 22),
     titleText('Cape Grim. Match Time: Flask \u00b1 7200 s', 951, 33)],
    statText(hcfcStats, 77, 55, 24.5),
    statText(chStats, 712, 72, 21)
  )
};

chart.setOption(option);
</script>
</body>
</html>
